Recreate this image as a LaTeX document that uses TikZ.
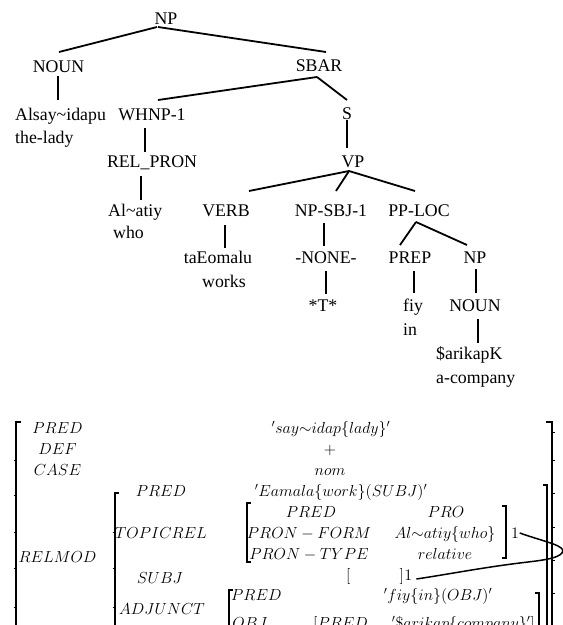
\RequirePackage{fix-cm}
\documentclass[tikz,border=0pt]{standalone}
\usepackage{fontspec}
\newfontfamily\treefont{Liberation Serif}
\begin{document}
\begin{tikzpicture}[x=1pt,y=-1pt,
  lab/.style={font=\treefont\fontsize{17.8}{20}\selectfont, inner sep=0pt, anchor=base},
  labw/.style={lab, anchor=base west},
  edge/.style={line width=1.8pt},
  fs/.style={font=\fontsize{16}{18}\selectfont, inner sep=0pt, anchor=base},
  fsw/.style={fs, anchor=base west},
  fse/.style={fs, anchor=base east},
  brk/.style={line width=1.1pt},
  seam/.style={line width=0.5pt},
  link/.style={line width=1.5pt}]
\useasboundingbox (0,0) rectangle (563,625);
\clip (0,0) rectangle (563,625);

% ---------------- phrase-structure tree ----------------
\node[lab]  (np)     at (166,24)  {NP};
\node[lab]  (noun1)  at (58.5,72) {NOUN};
\node[lab]  (sbar)   at (319,71)  {SBAR};
\node[labw] (alsay)  at (15,120)  {Alsay\textasciitilde idapu};
\node[labw] (alsayg) at (15,143)  {the-lady};
\node[lab]  (whnp)   at (152,120) {WHNP-1};
\node[lab]  (s)      at (347,119) {S};
\node[lab]  (relpron) at (152,167) {REL\_PRON};
\node[lab]  (vp)     at (353,167) {VP};
\node[labw] (alatiy) at (108,216) {Al\textasciitilde atiy};
\node[labw] (who)    at (113,238) {who};
\node[lab]  (verb)   at (226,216) {VERB};
\node[lab]  (npsbj)  at (331,216) {NP-SBJ-1};
\node[lab]  (pploc)  at (419,216) {PP-LOC};
\node[lab]  (taeo)   at (218,263) {taEomalu};
\node[lab]  (works)  at (224,287) {works};
\node[lab]  (none)   at (326,263) {-NONE-};
\node[lab]  (prep)   at (410,263) {PREP};
\node[lab]  (np2)    at (475,263) {NP};
\node[lab]  (tstar)  at (323,311) {*T*};
\node[labw] (fiy)    at (403,311) {fiy};
\node[labw] (in)     at (403,335) {in};
\node[lab]  (noun2)  at (475,311) {NOUN};
\node[labw] (sarik)  at (436,359) {\$arikapK};
\node[labw] (acomp)  at (436,383) {a-company};

\draw[edge] ([xshift=-9pt,yshift=-3pt]np.base) -- ([xshift=0.5pt,yshift=20pt]noun1.base);
\draw[edge] ([xshift=-8pt,yshift=-3pt]np.base) -- ([xshift=7pt,yshift=19pt]sbar.base);
\draw[edge] ([xshift=-0.5pt,yshift=-4pt]noun1.base) -- ([xshift=43pt,yshift=20pt]alsay.base west);
\draw[edge] ([xshift=-2pt,yshift=-6pt]sbar.base) -- ([xshift=6pt,yshift=20pt]whnp.base);
\draw[edge] ([xshift=-2pt,yshift=-6pt]sbar.base) -- ([yshift=19pt]s.base);
\draw[edge] ([xshift=-7pt,yshift=-8pt]whnp.base) -- ([xshift=-7pt,yshift=15pt]relpron.base);
\draw[edge] ([yshift=-1pt]s.base) -- ([xshift=-6pt,yshift=19pt]vp.base);
\draw[edge] ([xshift=-11pt,yshift=-9pt]relpron.base) -- ([xshift=33pt,yshift=16pt]alatiy.base west);
\draw[edge] ([xshift=-4pt,yshift=-4pt]vp.base) -- ([xshift=23pt,yshift=25pt]verb.base);
\draw[edge] ([xshift=-4pt,yshift=-4pt]vp.base) -- ([xshift=5pt,yshift=25pt]npsbj.base);
\draw[edge] ([xshift=-4pt,yshift=-4pt]vp.base) -- ([xshift=-4pt,yshift=25pt]pploc.base);
\draw[edge] ([xshift=-1pt,yshift=-9pt]verb.base) -- ([xshift=7pt,yshift=15pt]taeo.base);
\draw[edge] ([xshift=-7pt,yshift=-7pt]npsbj.base) -- ([xshift=-2pt,yshift=17pt]none.base);
\draw[edge] ([xshift=-3pt,yshift=-6pt]pploc.base) -- ([xshift=-10pt,yshift=18pt]prep.base);
\draw[edge] ([xshift=-3pt,yshift=-6pt]pploc.base) -- ([xshift=-8pt,yshift=18pt]np2.base);
\draw[edge] ([yshift=-8pt]none.base) -- ([xshift=3pt,yshift=17pt]tstar.base);
\draw[edge] ([xshift=4pt,yshift=-8pt]prep.base) -- ([xshift=11pt,yshift=18pt]fiy.base west);
\draw[edge] ([xshift=1pt,yshift=-6pt]np2.base) -- ([xshift=1pt,yshift=18pt]noun2.base);
\draw[edge] ([xshift=3pt,yshift=-8pt]noun2.base) -- ([xshift=42pt,yshift=16pt]sarik.base west);

% ---------------- feature structure ----------------
% outermost level
\node[fs] (fpred)   at (57.5,433) {$PRED$};
\node[fs] (fdef)    at (57.5,454) {$DEF$};
\node[fs] (fcase)   at (57.5,475) {$CASE$};
\node[fs] (frelmod) at (57.5,562) {$RELMOD$};
\node[fs] (vpred)   at (331,433)  {$'say{\sim}idap\{lady\}'$};
\node[fs] (vdef)    at (330,454)  {$+$};
\node[fs] (vcase)   at (330,475)  {$nom$};

% RELMOD value
\node[fs] (rpred)   at (161,496) {$PRED$};
\node[fs] (rtopic)  at (161,538) {$TOPICREL$};
\node[fs] (rsubj)   at (160,583) {$SUBJ$};
\node[fs] (radj)    at (162,614) {$ADJUNCT$};
\node[fs] (rpredv)  at (341,496) {$'Eamala\{work\}(SUBJ)'$};

% TOPICREL value
\node[fs] (tpred)   at (311,517) {$PRED$};
\node[fs] (tform)   at (309,538) {$PRON-FORM$};
\node[fs] (ttype)   at (309,559) {$PRON-TYPE$};
\node[fs] (tpredv)  at (446,517) {$PRO$};
\node[fs] (tformv)  at (445,538) {$Al{\sim}atiy\{who\}$};
\node[fs] (ttypev)  at (445,559) {$relative$};
\node[fsw] (one1)   at (511,538) {$1$};

% SUBJ value, coindexed with TOPICREL
\node[fsw] (subjv)  at (346,580) {$[\hspace{49pt}]$};
\node[fsw] (one2)   at (subjv.base east) {$1$};

% ADJUNCT value
\node[fsw] (apred)  at (231,600) {$PRED$};
\node[fs]  (aobj)   at (250,628) {$OBJ$};
\node[fs]  (apredv) at (438,600) {$'fiy\{in\}(OBJ)'$};
\node[fsw] (oprd)   at (313,628) {$[PRED$};
\node[fse] (oprdv)  at (535,628) {$'\$arikap\{company\}']$};

% square brackets of the attribute-value matrices
\draw[brk] (21,422) -- (16,422) -- (16,630);
\draw[brk] (546,422) -- (552,422) -- (552,630);
\draw[brk] (119,493) -- (115,493) -- (115,630);
\draw[brk] (543,485) -- (547,485) -- (547,630);
\draw[brk] (251,503) -- (247,503) -- (247,562) -- (251,562);
\draw[brk] (502,506) -- (506,506) -- (506,558) -- (502,558);
\draw[brk] (233,590) -- (229,590) -- (229,630);
\draw[brk] (535,593) -- (539,593) -- (539,630);

% joints of the extensible bracket pieces
\foreach \yy in {460,495,532,568,607} \draw[seam] (13.5,\yy) -- (16,\yy);
\foreach \yy in {532,568,607} \draw[seam] (112.5,\yy) -- (115,\yy);
\foreach \yy in {432,460,493,527,560,593} \draw[seam] (552,\yy) -- (554.5,\yy);

% structure-sharing link between the two tags
\draw[link] ([xshift=0.5pt,yshift=5pt]one1.base east)
  .. controls (545,542) and (568,546) .. (562,553)
  .. controls (558,558) and (545,560) .. (528,562)
  .. controls (485,567) and (450,574) .. ([xshift=4pt,yshift=1pt]one2.base east);
\end{tikzpicture}
\end{document}
